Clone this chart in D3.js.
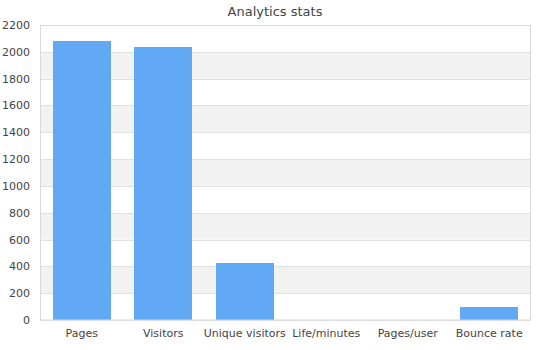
<!DOCTYPE html>
<html>
<head>
<meta charset="utf-8">
<script src="https://cdn.jsdelivr.net/npm/d3@7"></script>
<style>
  body { margin: 0; background: #fff; }
  text { font-family: "DejaVu Sans", Verdana, sans-serif; }
</style>
</head>
<body>
<div id="chart"></div>
<script>
// data
var categories = ["Pages", "Visitors", "Unique visitors", "Life/minutes", "Pages/user", "Bounce rate"];
var values = [2082, 2038, 426, 1.8, 1.2, 98];
var yTicks = [0, 200, 400, 600, 800, 1000, 1200, 1400, 1600, 1800, 2000, 2200];

var width = 550, height = 350;
var margin = {top: 25, right: 20, bottom: 30, left: 40};
var w = width - margin.left - margin.right,
    h = height - margin.top - margin.bottom;

var svg = d3.select("#chart").append("svg")
    .attr("width", width)
    .attr("height", height);

var g = svg.append("g")
    .attr("transform", "translate(" + margin.left + "," + margin.top + ")");

var x = d3.scaleBand()
    .domain(categories)
    .range([1, w])
    .paddingInner(0.29)
    .paddingOuter(0.145);

var y = d3.scaleLinear()
    .domain([0, 2200])
    .range([h, 0]);

// alternating background bands
g.selectAll("rect.band")
    .data(yTicks.slice(0, -1))
  .enter().append("rect")
    .attr("class", "band")
    .attr("x", 0)
    .attr("width", w)
    .attr("y", function(d, i) { return y(yTicks[i + 1]); })
    .attr("height", function(d, i) { return y(d) - y(yTicks[i + 1]); })
    .attr("fill", function(d, i) { return i % 2 ? "#f2f2f2" : "#fff"; });

// grid lines
g.selectAll("line.grid")
    .data(yTicks)
  .enter().append("line")
    .attr("class", "grid")
    .attr("x1", 0).attr("x2", w)
    .attr("y1", function(d) { return Math.round(y(d)) + 0.5; })
    .attr("y2", function(d) { return Math.round(y(d)) + 0.5; })
    .attr("stroke", "#e0e0e0");

// bars
g.selectAll("rect.bar")
    .data(values)
  .enter().append("rect")
    .attr("class", "bar")
    .attr("x", function(d, i) { return x(categories[i]); })
    .attr("width", x.bandwidth())
    .attr("y", function(d) { return y(d); })
    .attr("height", function(d) { return h - y(d); })
    .attr("fill", "#61a8f5")
    .attr("shape-rendering", "crispEdges");

// frame
g.append("rect")
    .attr("x", 0.5).attr("y", 0.5)
    .attr("width", w).attr("height", h - 0.5)
    .attr("fill", "none")
    .attr("stroke", "#d9d9d9");

// y axis
var yAxis = g.append("g")
    .call(d3.axisLeft(y).tickValues(yTicks).tickFormat(d3.format("d")).tickSize(0).tickPadding(10));
yAxis.select(".domain").remove();
yAxis.selectAll("text")
    .attr("font-size", 11)
    .attr("fill", "#444")
    .style("font-family", "DejaVu Sans, sans-serif");

// x axis
var xAxis = g.append("g")
    .attr("transform", "translate(0," + h + ")")
    .call(d3.axisBottom(x).tickSize(0).tickPadding(9));
xAxis.select(".domain").remove();
xAxis.selectAll("text")
    .attr("font-size", 11)
    .attr("fill", "#444")
    .style("font-family", "DejaVu Sans, sans-serif");

// title
svg.append("text")
    .attr("x", width / 2)
    .attr("y", 16)
    .attr("text-anchor", "middle")
    .attr("font-size", 13)
    .attr("fill", "#444")
    .text("Analytics stats");
</script>
</body>
</html>
